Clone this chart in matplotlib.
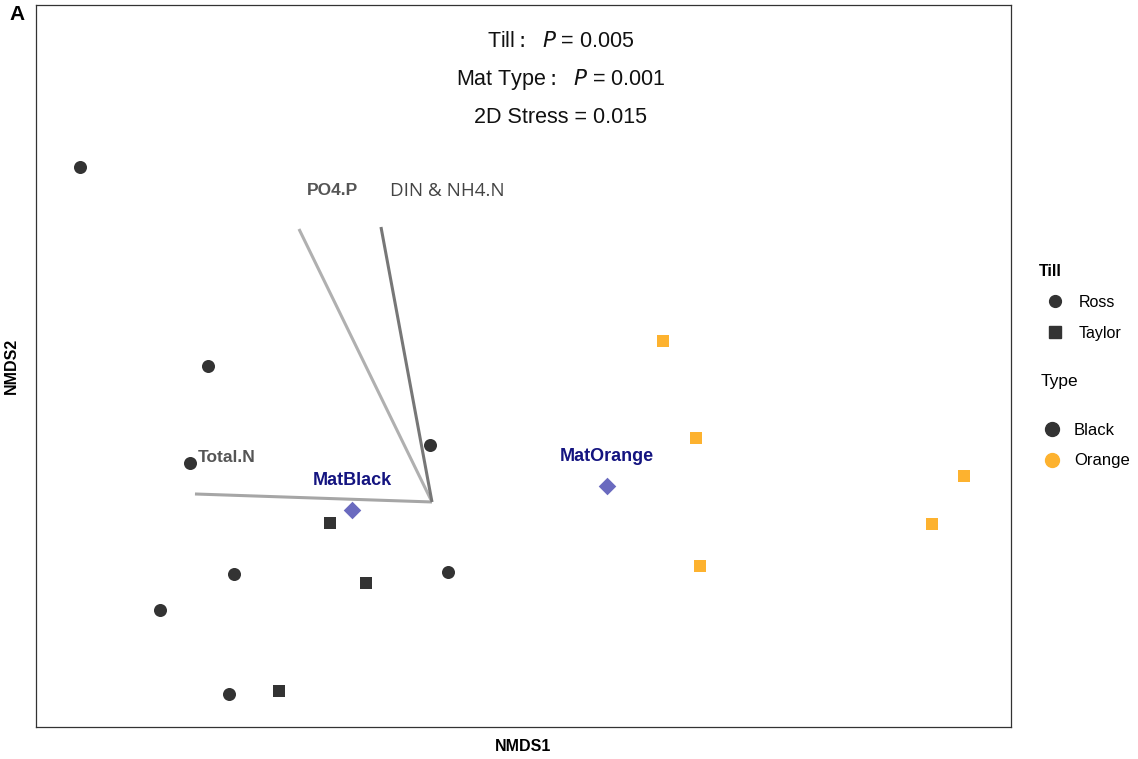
from matplotlib import pyplot as plt
from matplotlib.lines import Line2D
import numpy as np

plt.rcParams['font.family'] = ['Liberation Sans', 'DejaVu Sans']

# NMDS site scores
ross_black_x = [-0.88, -0.56, -0.605, -0.005, -0.495, -0.68, 0.04, -0.508]
ross_black_y = [0.838, 0.34, 0.098, 0.143, -0.18, -0.27, -0.175, -0.48]
taylor_black_x = [-0.255, -0.165, -0.383]
taylor_black_y = [-0.053, -0.203, -0.473]
taylor_orange_x = [0.578, 0.66, 1.33, 1.25, 0.67]
taylor_orange_y = [0.403, 0.16, 0.065, -0.055, -0.16]

# centroids of mat types
centroid_names = ['MatBlack', 'MatOrange']
centroid_x = [-0.2, 0.4375]
centroid_y = [-0.02, 0.04]

# environmental fit vectors
vec_names = ['Total.N', 'PO4.P', 'DIN & NH4.N']
vec_x = [-0.5925, -0.3325, -0.1275]
vec_y = [0.02, 0.6825, 0.6875]

stats_lines = [r'Till$:$  $P$ = 0.005', r'Mat Type$:$  $P$ = 0.001', '2D Stress = 0.015']

dark = '#333333'
orange = '#FDB22F'

fig = plt.figure(figsize=(11.38, 7.59), dpi=100)
ax = fig.add_axes([0.0316, 0.0422, 0.8568, 0.9512])

# vectors
ax.plot([0, vec_x[0]], [0, vec_y[0]], color='#a6a6a6', lw=2.2, solid_capstyle='butt')
ax.plot([0, vec_x[1]], [0, vec_y[1]], color='#b0b0b0', lw=2.2, solid_capstyle='butt')
ax.plot([0, vec_x[2]], [0, vec_y[2]], color='#777777', lw=2.2, solid_capstyle='butt')
ax.text(vec_x[0] + 0.08, vec_y[0] + 0.09, vec_names[0], color='#555555', fontsize=12.5,
        fontweight='bold', ha='center', va='center')
ax.text(vec_x[1] + 0.085, vec_y[1] + 0.095, vec_names[1], color='#555555', fontsize=12.5,
        fontweight='bold', ha='center', va='center')
ax.text(vec_x[2] + 0.165, vec_y[2] + 0.09, vec_names[2], color='#444444', fontsize=13.5,
        family='Open Sans', ha='center', va='center')

# sites
ax.scatter(ross_black_x, ross_black_y, s=88, marker='o', color=dark, zorder=3, linewidths=0)
ax.scatter(taylor_black_x, taylor_black_y, s=80, marker='s', color=dark, zorder=3, linewidths=0)
ax.scatter(taylor_orange_x, taylor_orange_y, s=80, marker='s', color=orange, zorder=3, linewidths=0)

# centroids
ax.scatter(centroid_x, centroid_y, s=80, marker='D', color='#6A6ABF', zorder=3, linewidths=0)
for n, cx, cy in zip(centroid_names, centroid_x, centroid_y):
    ax.text(cx, cy + 0.073, n, color='#141480', fontsize=13, fontweight='bold',
            ha='center', va='center')

for i, s in enumerate(stats_lines):
    ax.text(0.538, 0.95 - i * 0.053, s, transform=ax.transAxes, fontsize=15.5,
            ha='center', va='center', color='#111111')

ax.set_xlim(-0.99, 1.4475)
ax.set_ylim(-0.5625, 1.2425)
ax.set_xticks([])
ax.set_yticks([])
for sp in ax.spines.values():
    sp.set_color('#333333')
    sp.set_linewidth(0.9)
ax.set_xlabel('NMDS1', fontweight='bold', fontsize=11.5, labelpad=9)
ax.set_ylabel('NMDS2', fontweight='bold', fontsize=11.5, labelpad=12)

fig.text(0.008, 0.981, 'A', fontsize=15, fontweight='heavy', va='center')

# legends
h_till = [Line2D([], [], marker='o', ls='', color=dark, markersize=8.5),
          Line2D([], [], marker='s', ls='', color=dark, markersize=8)]
h_type = [Line2D([], [], marker='o', ls='', color=dark, markersize=10),
          Line2D([], [], marker='o', ls='', color=orange, markersize=10)]
leg1 = fig.legend(h_till, ['Ross', 'Taylor'], title='Till', loc='upper left',
                  bbox_to_anchor=(0.9, 0.671), frameon=False, fontsize=11.5,
                  title_fontproperties={'weight': 'bold', 'size': 11.5}, alignment='left',
                  handletextpad=0.5, labelspacing=1.0)
fig.text(0.914, 0.497, 'Type', fontsize=12.5, va='center')
leg2 = fig.legend(h_type, ['Black', 'Orange'], loc='upper left',
                  bbox_to_anchor=(0.897, 0.463), frameon=False, fontsize=12,
                  handletextpad=0.3, labelspacing=0.95)

fig.savefig('out.png', dpi=100)
